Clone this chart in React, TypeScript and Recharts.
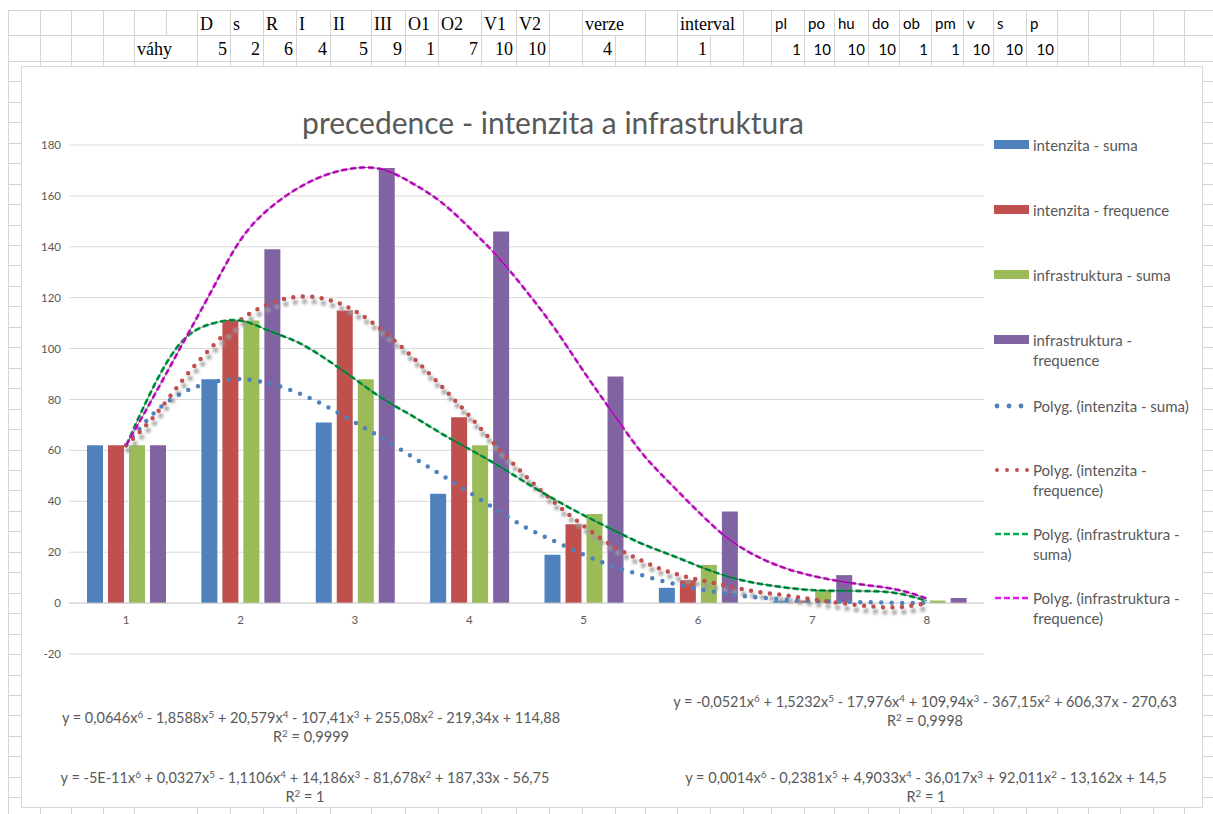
import React from "react";
import { ComposedChart, Bar, Line, XAxis, YAxis, CartesianGrid, ReferenceLine } from "recharts";

// column chart data (categories 1..8)
const categories = ["1", "2", "3", "4", "5", "6", "7", "8"];
const intenzitaSuma = [62, 88, 71, 43, 19, 6, 1, 0];
const intenzitaFrequence = [62, 111, 115, 73, 31, 9, 1, 0];
const infrastrukturaSuma = [62, 111, 88, 62, 35, 15, 5, 1];
const infrastrukturaFrequence = [62, 139, 171, 146, 89, 36, 11, 2];
const yTicks = [-20, 0, 20, 40, 60, 80, 100, 120, 140, 160, 180];

// polynomial trendlines
const trendX = [1, 1.25, 1.5, 1.75, 2, 2.25, 2.5, 2.75, 3, 3.25, 3.5, 3.75, 4, 4.25, 4.5, 4.75, 5, 5.25, 5.5, 5.75, 6, 6.25, 6.5, 6.75, 7, 7.25, 7.5, 7.75, 8];
const trendIntenzitaSuma = [62, 75, 82.8, 86.8, 88, 86.3, 82.6, 77.3, 71, 64.5, 57.5, 50.5, 43.5, 36.3, 29.6, 24.2, 19, 14.6, 11.1, 8, 5.6, 3.6, 2.3, 1.5, 0.8, 0.5, 0.3, 0.1, 0.1];
const trendIntenzitaFrequence = [62, 73.7, 88, 100.7, 111.3, 117.6, 120.4, 119.4, 114.8, 106.8, 96.8, 85.5, 73.6, 61, 49.6, 39.3, 30.3, 22.6, 16.8, 12.2, 9.2, 6.8, 4.6, 3.1, 1.5, 0, -1.2, -1.6, 0];
const trendInfrastrukturaSuma = [62, 86, 103.4, 109.8, 111, 107, 102.5, 95.8, 88, 80.1, 73.6, 66.8, 60.5, 54.1, 47.2, 40.6, 34.5, 28.9, 23.5, 19.1, 14.6, 10.6, 7.9, 6.2, 5.1, 4.8, 4.7, 3.8, 0.9];
const trendInfrastrukturaFrequence = [62, 82, 102.5, 123, 142.7, 155, 163, 168.3, 170.9, 170.3, 165, 157.7, 147.5, 136, 122.5, 107.7, 91, 75, 59.5, 47.3, 36, 25.8, 18.7, 13.9, 10.7, 8.5, 6.9, 5.2, 1.8];

const headerLabels = ["D", "s", "R", "I", "II", "III", "O1", "O2", "V1", "V2", "verze", "interval"];
const headerLabelsSans = ["pl", "po", "hu", "do", "ob", "pm", "v", "s", "p"];
const weights = [5, 2, 6, 4, 5, 9, 1, 7, 10, 10, 4, 1];
const weightsSans = [1, 10, 10, 10, 1, 1, 10, 10, 10];

const title = "precedence - intenzita a infrastruktura";
const equations = [
  { eq: "y = 0,0646x^6 - 1,8588x^5 + 20,579x^4 - 107,41x^3 + 255,08x^2 - 219,34x + 114,88", r2: "R^2 = 0,9999" },
  { eq: "y = -5E-11x^6 + 0,0327x^5 - 1,1106x^4 + 14,186x^3 - 81,678x^2 + 187,33x - 56,75", r2: "R^2 = 1" },
  { eq: "y = -0,0521x^6 + 1,5232x^5 - 17,976x^4 + 109,94x^3 - 367,15x^2 + 606,37x - 270,63", r2: "R^2 = 0,9998" },
  { eq: "y = 0,0014x^6 - 0,2381x^5 + 4,9033x^4 - 36,017x^3 + 92,011x^2 - 13,162x + 14,5", r2: "R^2 = 1" },
];

const BLUE = "#4f81bd";
const RED = "#c0504d";
const GREEN = "#9bbb59";
const PURPLE = "#8064a2";
const TGREEN = "#00b050";
const MAGENTA = "#e61ae6";
const TXT = "#595959";
const FONT = "Lato, 'Open Sans', sans-serif";

const barData = categories.map((name, i) => ({
  name,
  is: intenzitaSuma[i],
  ifr: intenzitaFrequence[i],
  ss: infrastrukturaSuma[i],
  sf: infrastrukturaFrequence[i],
}));

const trendData = trendX.map((x, i) => ({
  x,
  tis: trendIntenzitaSuma[i],
  tif: trendIntenzitaFrequence[i],
  tss: trendInfrastrukturaSuma[i],
  tsf: trendInfrastrukturaFrequence[i],
}));

const renderEq = (s: string) =>
  s.split(/\^(\d)/).map((p, i) =>
    i % 2 ? (
      <sup key={i} style={{ fontSize: "0.68em", lineHeight: 0, verticalAlign: "0.55em" }}>{p}</sup>
    ) : (
      <span key={i}>{p}</span>
    )
  );

const CatTick = (props: any) => {
  const { x, y, payload } = props;
  return (
    <text x={x} y={y - 34} dy="0.355em" textAnchor="middle" fill={TXT} fontSize={11.5} fontFamily={FONT}>
      {payload.value}
    </text>
  );
};

const legendItems = [
  { kind: "bar", color: BLUE, lines: ["intenzita - suma"], y: 145 },
  { kind: "bar", color: RED, lines: ["intenzita - frequence"], y: 210 },
  { kind: "bar", color: GREEN, lines: ["infrastruktura - suma"], y: 275 },
  { kind: "bar", color: PURPLE, lines: ["infrastruktura -", "frequence"], y: 340 },
  { kind: "dot3", color: BLUE, lines: ["Polyg. (intenzita - suma)"], y: 406 },
  { kind: "dot4", color: RED, lines: ["Polyg. (intenzita -", "frequence)"], y: 470 },
  { kind: "dash", color: TGREEN, lines: ["Polyg. (infrastruktura -", "suma)"], y: 534 },
  { kind: "dash", color: MAGENTA, lines: ["Polyg. (infrastruktura -", "frequence)"], y: 598 },
];

const Swatch = ({ kind, color }: { kind: string; color: string }) => {
  if (kind === "bar") return <rect x={0} y={5} width={35} height={9} fill={color} />;
  if (kind === "dot3")
    return (
      <g fill={color}>
        {[3, 15, 27].map((cx) => <circle key={cx} cx={cx} cy={10} r={2.4} />)}
      </g>
    );
  if (kind === "dot4")
    return (
      <g fill={color}>
        {[3, 13, 23, 33].map((cx) => <circle key={cx} cx={cx} cy={10} r={2} />)}
      </g>
    );
  return <line x1={1} y1={10} x2={36} y2={10} stroke={color} strokeWidth={2.5} strokeDasharray="6 3" />;
};

export default function App() {
  const row1Cols = [8, 40, 71, 103, 134, 166, 197, 230, 263, 296, 330, 371, 405, 438, 481, 516, 549, 582, 645, 677, 743, 771, 804, 834, 868, 899, 931, 963, 993, 1026, 1057, 1088, 1120, 1153, 1184];
  const row2Cols = [8, 40, 71, 103, 134, 197, 230, 263, 296, 330, 371, 405, 438, 481, 516, 549, 582, 615, 645, 677, 710, 743, 771, 804, 834, 868, 899, 931, 963, 993, 1026, 1057, 1088, 1120, 1153, 1184];
  const labelLeft = [197, 230, 263, 296, 330, 371, 405, 438, 481, 516, 582, 677];
  const sansLeft = [771, 804, 834, 868, 899, 931, 963, 993, 1026];
  const weightRight = [230, 263, 296, 330, 371, 405, 438, 481, 516, 549, 615, 710];
  const sansRight = [804, 834, 868, 899, 931, 963, 993, 1026, 1057];
  const rowLines: number[] = [];
  for (let y = 61; y < 814; y += 20.45) rowLines.push(Math.round(y) + 0.5);

  return (
    <div style={{ position: "absolute", left: 0, top: 0, width: 1213, height: 814, background: "#fff", overflow: "hidden" }}>
      {/* spreadsheet background */}
      <svg width={1213} height={814} style={{ position: "absolute", left: 0, top: 0 }}>
        <g stroke="#d4d4d4" strokeWidth={1}>
          <line x1={8} y1={10.5} x2={1213} y2={10.5} />
          <line x1={8} y1={35.5} x2={1213} y2={35.5} />
          {rowLines.map((y) => <line key={y} x1={8} y1={y} x2={1213} y2={y} />)}
          {row1Cols.map((x) => <line key={"a" + x} x1={x + 0.5} y1={10} x2={x + 0.5} y2={35} />)}
          {row2Cols.map((x) => <line key={"b" + x} x1={x + 0.5} y1={35} x2={x + 0.5} y2={814} />)}
        </g>
        <g fontFamily="'Liberation Serif', 'Times New Roman', serif" fontSize={18} fill="#000">
          {headerLabels.map((t, i) => (
            <text key={"h" + i} x={labelLeft[i] + 3} y={30}>{t}</text>
          ))}
          <text x={137} y={55}>váhy</text>
          {weights.map((w, i) => (
            <text key={"w" + i} x={weightRight[i] - 3} y={55} textAnchor="end">{w}</text>
          ))}
        </g>
        <g fontFamily={FONT} fontSize={15} fill="#000">
          {headerLabelsSans.map((t, i) => (
            <text key={"hs" + i} x={sansLeft[i] + 4} y={29}>{t}</text>
          ))}
          {weightsSans.map((w, i) => (
            <text key={"ws" + i} x={sansRight[i] - 3} y={55} textAnchor="end">{w}</text>
          ))}
        </g>
      </svg>

      {/* chart area box */}
      <div style={{ position: "absolute", left: 21, top: 66, width: 1180, height: 740, background: "#fff", border: "1px solid #d9d9d9" }} />

      <div style={{ position: "absolute", left: 0, top: 0 }}>
        <ComposedChart
          width={1213}
          height={814}
          data={barData}
          margin={{ top: 145, right: 229, bottom: 130, left: 29 }}
          barSize={16}
          barGap={5}
        >
          <defs>
            <filter id="shadow" x="-10%" y="-10%" width="120%" height="130%">
              <feOffset dx="2" dy="5" />
              <feGaussianBlur stdDeviation="1.8" />
            </filter>
          </defs>
          <CartesianGrid vertical={false} stroke="#d9d9d9" />
          <XAxis xAxisId="c" dataKey="name" axisLine={false} tickLine={false} tickSize={0} tickMargin={0} tick={<CatTick />} interval={0} />
          <XAxis xAxisId="t" dataKey="x" type="number" domain={[0.5, 8.5]} hide allowDataOverflow />
          <YAxis
            width={40}
            domain={[-20, 180]}
            ticks={yTicks}
            axisLine={false}
            tickLine={false}
            tick={{ fill: TXT, fontSize: 11.5, fontFamily: FONT }}
            interval={0}
          />
          <ReferenceLine xAxisId="c" y={0} stroke="#d0d0d0" />
          <Bar xAxisId="c" dataKey="is" fill={BLUE} isAnimationActive={false} />
          <Bar xAxisId="c" dataKey="ifr" fill={RED} isAnimationActive={false} />
          <Bar xAxisId="c" dataKey="ss" fill={GREEN} isAnimationActive={false} />
          <Bar xAxisId="c" dataKey="sf" fill={PURPLE} isAnimationActive={false} />
          <Line xAxisId="t" data={trendData} dataKey="tif" type="natural" stroke="#9c9c9c" strokeWidth={5} strokeDasharray="0 9.5" strokeLinecap="round" dot={false} filter="url(#shadow)" isAnimationActive={false} />
          <Line xAxisId="t" data={trendData} dataKey="tis" type="natural" stroke={BLUE} strokeWidth={4.5} strokeDasharray="0 10.5" strokeLinecap="round" dot={false} isAnimationActive={false} />
          <Line xAxisId="t" data={trendData} dataKey="tif" type="natural" stroke={RED} strokeWidth={4.5} strokeDasharray="0 9.5" strokeLinecap="round" dot={false} isAnimationActive={false} />
          <Line xAxisId="t" data={trendData} dataKey="tss" type="natural" stroke={TGREEN} strokeWidth={2.8} strokeDasharray="6 3" dot={false} isAnimationActive={false} />
          <Line xAxisId="t" data={trendData} dataKey="tss" type="natural" stroke="#000" strokeWidth={0.5} dot={false} isAnimationActive={false} />
          <Line xAxisId="t" data={trendData} dataKey="tsf" type="natural" stroke={MAGENTA} strokeWidth={2.8} strokeDasharray="6 3" dot={false} isAnimationActive={false} />
          <Line xAxisId="t" data={trendData} dataKey="tsf" type="natural" stroke="#000" strokeWidth={0.5} dot={false} isAnimationActive={false} />
        </ComposedChart>
      </div>

      {/* title */}
      <div style={{ position: "absolute", left: 253, width: 600, top: 102, textAlign: "center", fontFamily: FONT, fontSize: 30, color: TXT, lineHeight: "40px" }}>
        {title}
      </div>

      {/* legend */}
      {legendItems.map((it, i) => (
        <div key={i} style={{ position: "absolute", left: 994, top: it.y - 10, fontFamily: FONT, fontSize: 15, color: TXT, lineHeight: "20px" }}>
          <svg width={38} height={20} style={{ position: "absolute", left: 0, top: 0 }}>
            <Swatch kind={it.kind} color={it.color} />
          </svg>
          <div style={{ position: "absolute", left: 39, top: 0, whiteSpace: "nowrap" }}>
            {it.lines.map((l, j) => <div key={j}>{l}</div>)}
          </div>
        </div>
      ))}

      {/* trendline equations */}
      {[
        { cx: 311, y: 718, e: equations[0] },
        { cx: 305, y: 778, e: equations[1] },
        { cx: 925, y: 702, e: equations[2] },
        { cx: 926, y: 778, e: equations[3] },
      ].map((p, i) => (
        <div key={i} style={{ position: "absolute", left: p.cx - 300, width: 600, top: p.y - 10, textAlign: "center", fontFamily: FONT, fontSize: 14.5, color: TXT, lineHeight: "19px" }}>
          <div>{renderEq(p.e.eq)}</div>
          <div>{renderEq(p.e.r2)}</div>
        </div>
      ))}
    </div>
  );
}
